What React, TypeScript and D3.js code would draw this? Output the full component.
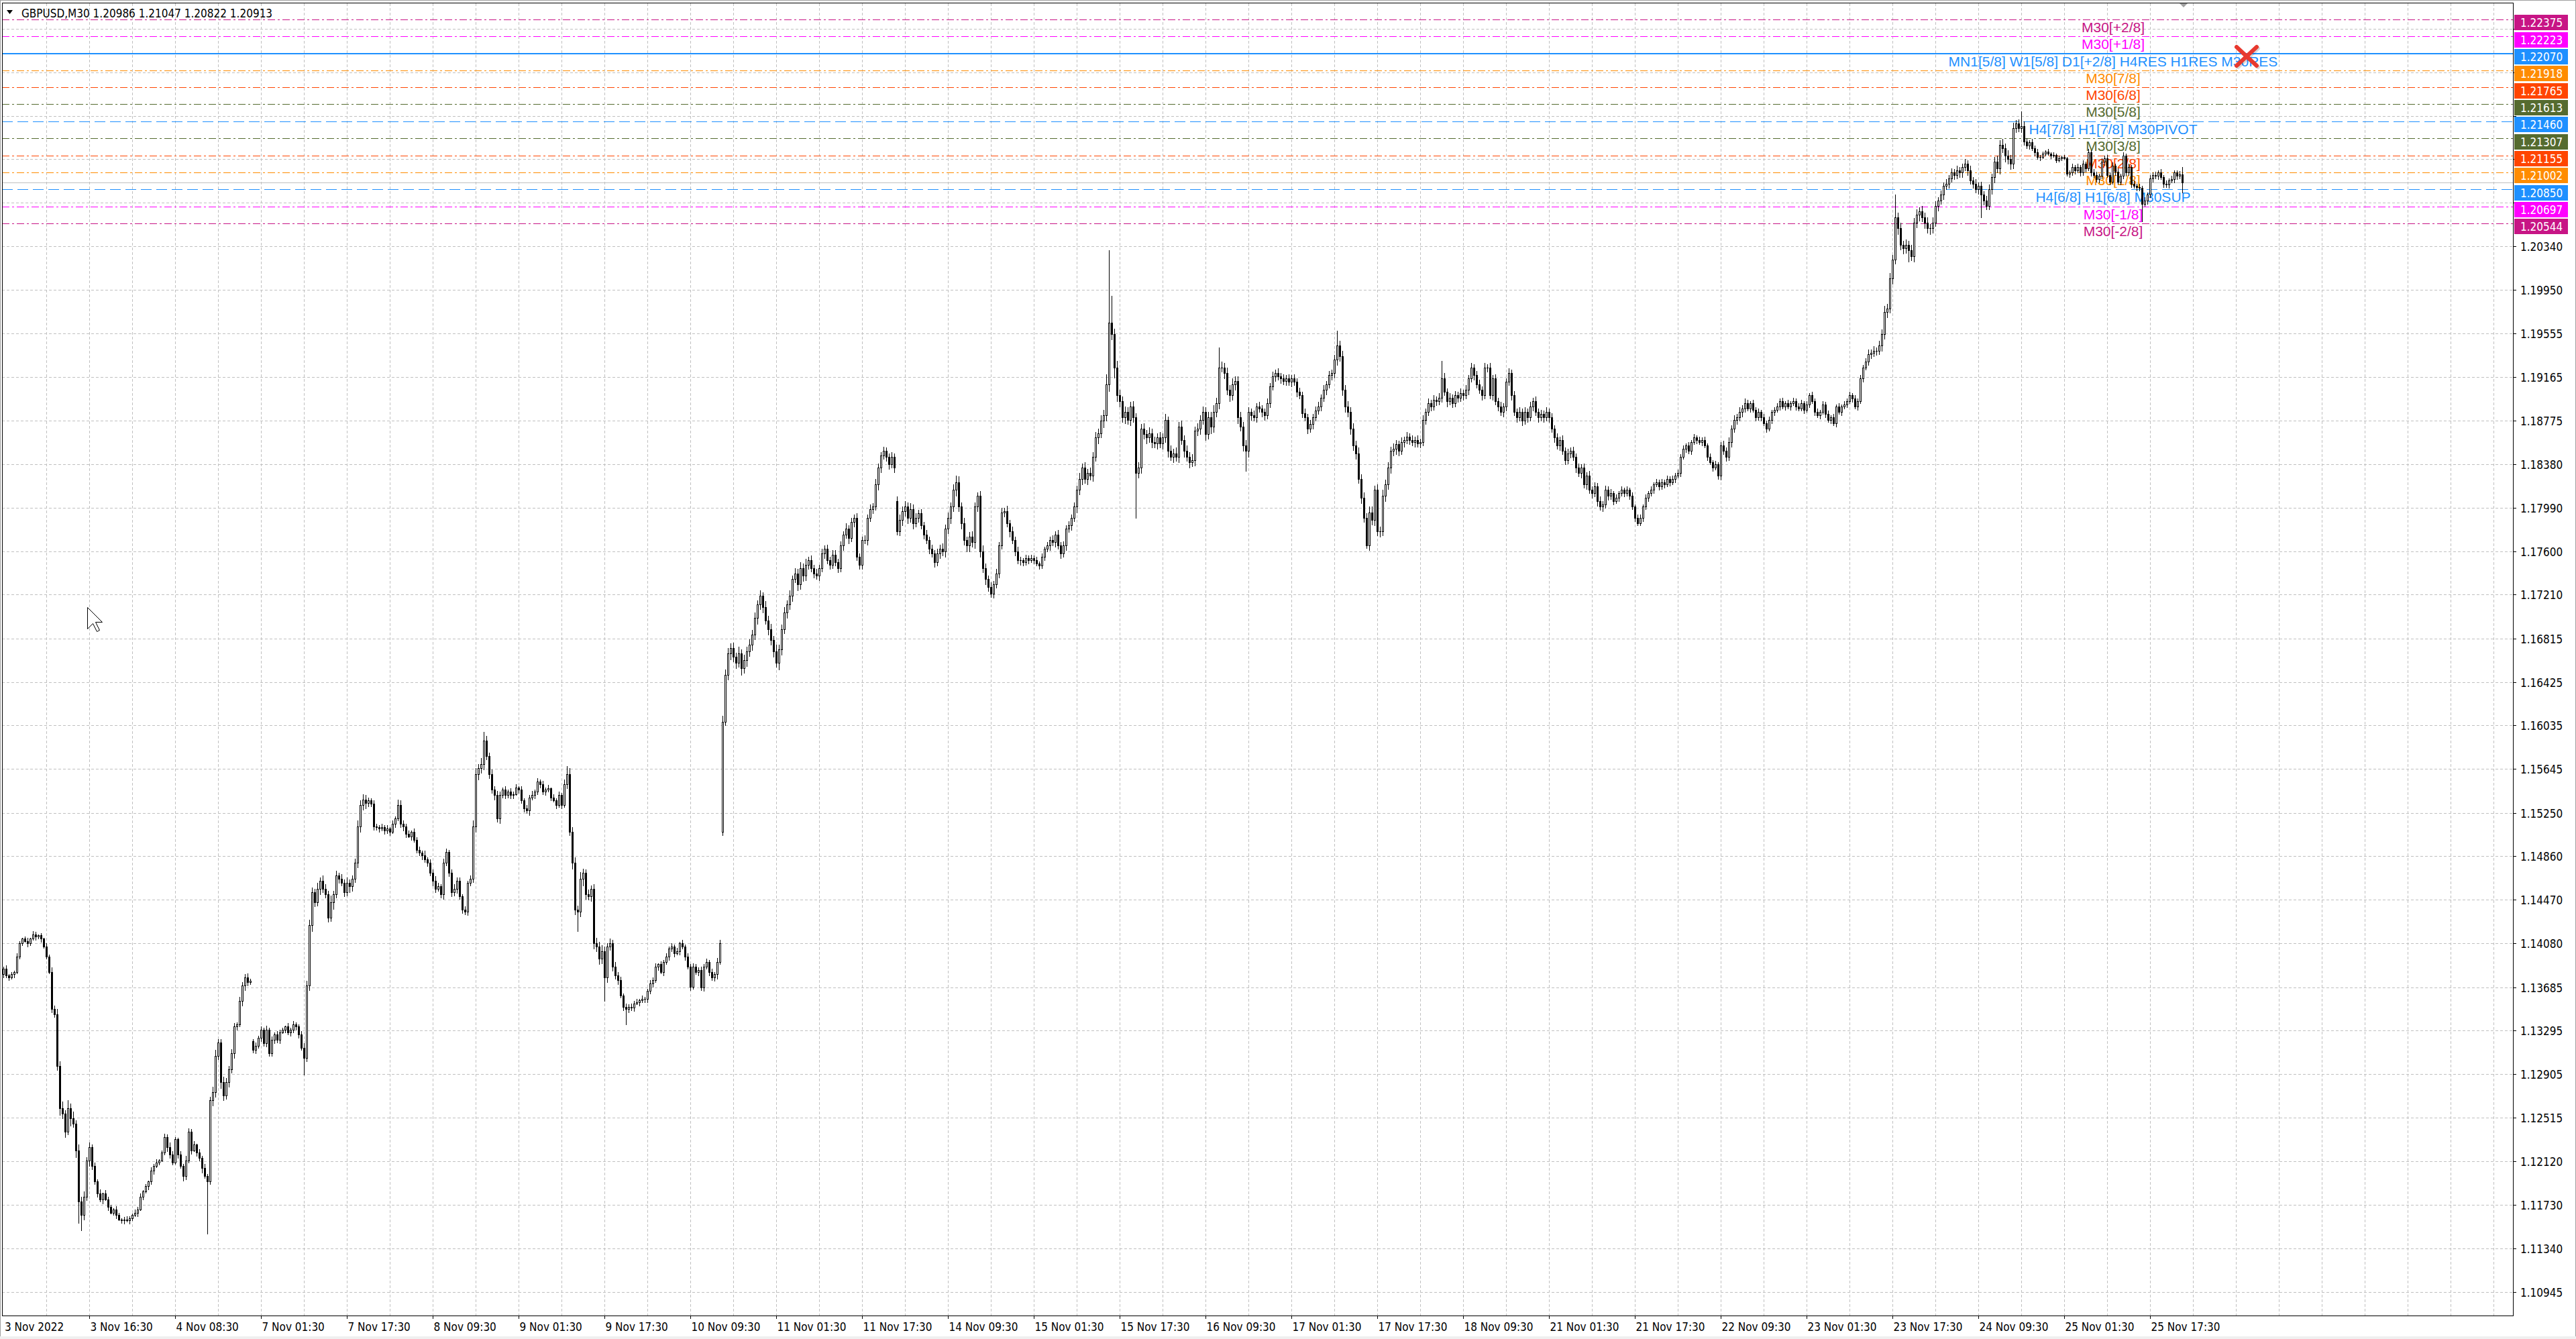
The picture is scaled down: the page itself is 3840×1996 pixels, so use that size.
import React from 'react';
import * as d3 from 'd3';

// ---------------- DATA ----------------
// close of every M30 bar, in 1e-4 price units (bar 0 = 3 Nov 2022 00:30 ... bar 812 = 25 Nov 23:30)
const closes: number[] = [
  11385, 11379, 11377, 11380, 11382, 11396, 11408, 11412, 11410, 11408,
  11412, 11416, 11414, 11415, 11412, 11405, 11396, 11382, 11349, 11344,
  11298, 11260, 11255, 11239, 11260, 11251, 11246, 11222, 11176, 11164,
  11180, 11213, 11225, 11208, 11194, 11183, 11178, 11183, 11178, 11171,
  11166, 11169, 11164, 11160, 11159, 11160, 11159, 11161, 11164, 11166,
  11169, 11180, 11185, 11190, 11194, 11204, 11208, 11211, 11213, 11220,
  11234, 11225, 11218, 11211, 11232, 11218, 11208, 11199, 11213, 11239,
  11222, 11227, 11220, 11215, 11206, 11199, 11194, 11267, 11274, 11307,
  11319, 11283, 11271, 11283, 11295, 11309, 11333, 11335, 11356, 11370,
  11377, 11373, 11374, 11312, 11316, 11323, 11330, 11318, 11330, 11309,
  11321, 11326, 11321, 11328, 11330, 11333, 11328, 11330, 11335, 11333,
  11326, 11314, 11305, 11370, 11424, 11454, 11445, 11457, 11464, 11457,
  11452, 11431, 11445, 11452, 11469, 11466, 11462, 11454, 11462, 11459,
  11466, 11480, 11513, 11532, 11537, 11534, 11536, 11533, 11513, 11512,
  11511, 11512, 11509, 11511, 11508, 11515, 11520, 11532, 11515, 11513,
  11506, 11504, 11508, 11501, 11492, 11489, 11487, 11483, 11480, 11471,
  11464, 11457, 11459, 11452, 11480, 11490, 11471, 11454, 11457, 11464,
  11450, 11438, 11436, 11462, 11466, 11513, 11560, 11565, 11569, 11590,
  11576, 11560, 11546, 11541, 11520, 11541, 11546, 11541, 11544, 11541,
  11542, 11548, 11546, 11536, 11529, 11527, 11539, 11541, 11544, 11553,
  11551, 11544, 11546, 11547, 11539, 11536, 11532, 11541, 11532, 11551,
  11560, 11508, 11480, 11438, 11436, 11466, 11471, 11452, 11450, 11457,
  11408, 11405, 11394, 11401, 11377, 11405, 11408, 11387, 11379, 11375,
  11361, 11351, 11349, 11351, 11350, 11354, 11355, 11357, 11358, 11358,
  11365, 11372, 11375, 11387, 11389, 11382, 11391, 11396, 11403, 11405,
  11399, 11401, 11408, 11405, 11396, 11387, 11369, 11387, 11382, 11384,
  11368, 11387, 11391, 11382, 11377, 11380, 11391, 11408, 11607, 11649,
  11668, 11673, 11665, 11660, 11668, 11655, 11662, 11670, 11676, 11685,
  11700, 11712, 11720, 11710, 11698, 11690, 11680, 11670, 11660, 11672,
  11690, 11705, 11712, 11720, 11735, 11740, 11730, 11745, 11738, 11748,
  11752, 11745, 11740, 11738, 11745, 11758, 11762, 11752, 11748, 11757,
  11750, 11745, 11765, 11775, 11780, 11772, 11786, 11790, 11755, 11748,
  11770, 11770, 11790, 11798, 11800, 11820, 11835, 11846, 11850, 11845,
  11838, 11845, 11835, 11778, 11788, 11796, 11800, 11790, 11798, 11785,
  11790, 11794, 11783, 11775, 11770, 11762, 11758, 11750, 11758, 11762,
  11760, 11780, 11790, 11800, 11815, 11822, 11800, 11785, 11770, 11765,
  11773, 11768, 11800, 11810, 11760, 11745, 11735, 11728, 11722, 11730,
  11740, 11765, 11795, 11796, 11785, 11778, 11770, 11760, 11752, 11752,
  11750, 11754, 11752, 11754, 11752, 11749, 11747, 11755, 11762, 11765,
  11770, 11768, 11775, 11765, 11758, 11765, 11780, 11783, 11790, 11800,
  11815, 11825, 11835, 11825, 11830, 11828, 11845, 11862, 11866, 11877,
  11882, 11910, 11965, 11955, 11925, 11900, 11895, 11880, 11885, 11878,
  11890, 11880, 11830, 11835, 11870, 11865, 11862, 11866, 11858, 11857,
  11862, 11857, 11862, 11878, 11850, 11845, 11848, 11845, 11872, 11860,
  11850, 11845, 11840, 11842, 11868, 11870, 11878, 11885, 11865, 11880,
  11872, 11885, 11893, 11925, 11925, 11920, 11905, 11900, 11910, 11913,
  11880, 11872, 11855, 11850, 11885, 11882, 11880, 11890, 11888, 11885,
  11882, 11893, 11908, 11917, 11920, 11917, 11915, 11913, 11915, 11912,
  11915, 11912, 11903, 11900, 11884, 11880, 11870, 11874, 11880, 11886,
  11890, 11898, 11905, 11910, 11918, 11920, 11932, 11945, 11935, 11905,
  11890, 11885, 11870, 11855, 11848, 11825, 11808, 11790, 11765, 11795,
  11788, 11815, 11778, 11778, 11810, 11820, 11835, 11850, 11852, 11856,
  11850, 11858, 11860, 11863, 11860, 11858, 11860, 11857, 11858, 11878,
  11885, 11893, 11890, 11896, 11895, 11898, 11915, 11903, 11895, 11898,
  11893, 11900, 11898, 11902, 11900, 11905, 11915, 11925, 11918, 11910,
  11905, 11900, 11925, 11925, 11900, 11915, 11895, 11890, 11885, 11890,
  11912, 11920, 11900, 11885, 11880, 11885, 11877, 11885, 11880, 11890,
  11895, 11885, 11880, 11883, 11880, 11885, 11880, 11870, 11862, 11855,
  11860, 11850, 11842, 11848, 11850, 11845, 11835, 11830, 11835, 11820,
  11828, 11815, 11812, 11818, 11805, 11800, 11802, 11815, 11810, 11812,
  11805, 11808, 11812, 11815, 11812, 11815, 11810, 11800, 11790, 11785,
  11790, 11800, 11808, 11812, 11815, 11820, 11822, 11818, 11822, 11820,
  11825, 11822, 11825, 11828, 11830, 11845, 11852, 11855, 11850, 11858,
  11862, 11860, 11858, 11860, 11855, 11845, 11840, 11835, 11838, 11828,
  11855, 11850, 11845, 11858, 11870, 11878, 11880, 11885, 11888, 11893,
  11888, 11893, 11887, 11880, 11885, 11880, 11875, 11870, 11878, 11885,
  11887, 11890, 11895, 11890, 11893, 11890, 11893, 11895, 11890, 11888,
  11893, 11887, 11892, 11900, 11895, 11885, 11882, 11885, 11892, 11883,
  11878, 11880, 11875, 11890, 11885, 11890, 11892, 11895, 11900, 11897,
  11890, 11895, 11915, 11925, 11930, 11937, 11938, 11940, 11940, 11945,
  11955, 11975, 11978, 12005, 12022, 12060, 12050, 12035, 12032, 12035,
  12030, 12025, 12055, 12062, 12065, 12060, 12055, 12050, 12050, 12055,
  12070, 12075, 12080, 12088, 12090, 12095, 12100, 12098, 12102, 12100,
  12105, 12108, 12102, 12093, 12090, 12085, 12088, 12080, 12075, 12070,
  12085, 12096, 12110, 12104, 12125, 12122, 12115, 12112, 12108, 12140,
  12144, 12140, 12142, 12128, 12124, 12127, 12122, 12118, 12114, 12114,
  12117, 12119, 12117, 12115, 12116, 12111, 12113, 12114, 12113, 12099,
  12100, 12105, 12102, 12105, 12100, 12108, 12104, 12118, 12100, 12098,
  12094, 12097, 12110, 12113, 12098, 12092, 12106, 12101, 12092, 12097,
  12115, 12100, 12105, 12090, 12088, 12087, 12086, 12072, 12075, 12080,
  12095, 12098, 12097, 12100, 12096, 12090, 12089, 12093, 12094, 12100,
  12097, 12098.6, 12091.3,
];
// upper / lower shadow lengths (1e-4 units), one digit per bar
const wickUp =
  '2312132123 1321213243 5463746354 5342324132 2132123213 2312132312 3243213243 2313242355 4354343243 3422323242 ' +
  '3232213232 2344543535 4363424353 3454543232 2323132343 2313232423 3432432343 3232355454 4343432323 2313232423 ' +
  '2323132324 3545464343 4545434343 3232323132 2323132323 2313232322 3232324355 5454645454 5453545464 4545354545 ' +
  '3434343434 4343534343 3434354343 3434545454 4343434344 5454545453 4545454343 4343534343 2323232323 3434343434 ' +
  '4545454545 5956565454 4545454545 4545354545 4545454545 5654545454 4545434343 3434343434 3434343434 4343434545 ' +
  '4545454545 5454545454 3434343434 3434343534 3434343434 4343434343 3434343434 3434343434 3434343434 3434343434 ' +
  '2323232323 3232323232 3232323232 3232323232 3434343434 3232323232 2323232323 3232323232 3232323232 3232343434 ' +
  '4545454545 4545454545 4343434343 3434343434 4345454545 3434323232 2121212121 2323232323 3232323232 3232323232 ' +
  '3232323232 232';
const wickDn =
  '3221312213 2132312132 4645373645 4353232413 1231231321 3121323121 2432132432 3132423254 3543434324 4322323232 ' +
  '2323122323 3243454353 3436342435 4345453232 3232313234 3132324232 4323423434 2323235545 3434342323 3132324232 ' +
  '3232313232 4354546434 5454343434 2323231323 3232313232 3132323223 2323234253 4545464545 4545354546 5454535454 ' +
  '4343434343 3434353434 4343435434 4343454545 3434343434 4545454545 5454545434 3434353434 3232323232 4343434343 ' +
  '5454545454 6565955454 5454545454 5454535454 5454545454 6545454545 5454543434 4343434343 4343434343 3434344545 ' +
  '5454545454 4545454545 4343434343 4343434353 4343434343 3434343434 4343434343 4343434343 4343434343 4343434343 ' +
  '3232323232 2323232323 2323232323 2323232323 4343434343 2323232323 3232323232 2323232323 2323232323 2323234343 ' +
  '5454545454 5454545454 3434343434 4343434343 3454545454 4343232323 1212121212 3232323232 2323232323 2323232323 ' +
  '2323232323 323';
const firstOpen = 11380;
// bars whose open is not the previous close (weekend / news gaps)
const gapOpens: [number, number][] = [[93, 11320], [268, 11508], [333, 11805], [812, 12098.6]];
const highFix: [number, number][] = [
  [80, 11322], [147, 11537], [179, 11598], [210, 11567], [271, 11677], [328, 11854], [355, 11828],
  [363, 11813], [412, 12030], [413, 11989], [453, 11943], [497, 11958], [536, 11931], [705, 12080],
  [750, 12147], [752, 12155], [812, 12104.7],
];
const lowFix: [number, number][] = [
  [28, 11157], [29, 11150], [76, 11147], [112, 11290], [214, 11419], [224, 11356], [232, 11335],
  [268, 11505], [422, 11790], [463, 11832], [508, 11763], [710, 12020], [737, 12060], [797, 12056],
  [812, 12082.2],
];

const timeLabels = [
  '3 Nov 2022', '3 Nov 16:30', '4 Nov 08:30', '7 Nov 01:30', '7 Nov 17:30', '8 Nov 09:30', '9 Nov 01:30',
  '9 Nov 17:30', '10 Nov 09:30', '11 Nov 01:30', '11 Nov 17:30', '14 Nov 09:30', '15 Nov 01:30',
  '15 Nov 17:30', '16 Nov 09:30', '17 Nov 01:30', '17 Nov 17:30', '18 Nov 09:30', '21 Nov 01:30',
  '21 Nov 17:30', '22 Nov 09:30', '23 Nov 01:30', '23 Nov 17:30', '24 Nov 09:30', '25 Nov 01:30',
  '25 Nov 17:30',
];
// grid rows hidden behind the level price boxes (no visible text)
const hiddenTicks = [1.2229, 1.219, 1.2151, 1.2112, 1.2073];
const priceTicks = [
  '1.20340', '1.19950', '1.19555', '1.19165', '1.18775', '1.18380', '1.17990', '1.17600', '1.17210',
  '1.16815', '1.16425', '1.16035', '1.15645', '1.15250', '1.14860', '1.14470', '1.14080', '1.13685',
  '1.13295', '1.12905', '1.12515', '1.12120', '1.11730', '1.11340', '1.10945',
];
// Murrey-math style levels
const levelPrices = [1.22375, 1.22223, 1.2207, 1.21918, 1.21765, 1.21613, 1.2146, 1.21307, 1.21155, 1.21002, 1.2085, 1.20697, 1.20544];
const levelKinds = ['ext2', 'ext1', 'major', 'o7', 'o6', 'o5', 'pivot', 'o3', 'o2', 'o1', 'sup', 'ext1', 'ext2'];
const levelTexts = [
  'M30[+2/8]', 'M30[+1/8]', 'MN1[5/8] W1[5/8] D1[+2/8] H4RES H1RES M30RES', 'M30[7/8]', 'M30[6/8]',
  'M30[5/8]', 'H4[7/8] H1[7/8] M30PIVOT', 'M30[3/8]', 'M30[2/8]', 'M30[1/8]', 'H4[6/8] H1[6/8] M30SUP',
  'M30[-1/8]', 'M30[-2/8]',
];
const titleText = 'GBPUSD,M30  1.20986 1.21047 1.20822 1.20913';
const lastClose = 1.20913;

// ---------------- STYLE / LAYOUT ----------------
const W = 3840, H = 1996;
const L = 3, R = 3746, T = 5, B = 1961;
const kindStyle: Record<string, { color: string; dash: string; width: number }> = {
  ext2: { color: '#C71585', dash: '11,4,3,4', width: 1 },
  ext1: { color: '#FF00FF', dash: '11,4,3,4', width: 1 },
  major: { color: '#1E90FF', dash: '', width: 2 },
  o7: { color: '#FF8C00', dash: '11,4,3,4', width: 1 },
  o6: { color: '#FF4500', dash: '11,4,3,4', width: 1 },
  o5: { color: '#556B2F', dash: '11,4,3,4', width: 1 },
  pivot: { color: '#1E90FF', dash: '16,7', width: 1 },
  o3: { color: '#556B2F', dash: '11,4,3,4', width: 1 },
  o2: { color: '#FF4500', dash: '11,4,3,4', width: 1 },
  o1: { color: '#FF8C00', dash: '11,4,3,4', width: 1 },
  sup: { color: '#1E90FF', dash: '16,7', width: 1 },
};
const axisFont = "'DejaVu Sans Condensed', 'DejaVu Sans', sans-serif";
const labelFont = "'Liberation Sans', Arial, sans-serif";

export default function App() {
  const x = d3.scaleLinear().domain([0, 812]).range([4.7, 3252.7]);
  const y = d3.scaleLinear().domain([1.2034 - (B - 366.8) / 16600, 1.2034 + (366.8 - T) / 16600]).range([B, T]);

  const up = wickUp.replace(/\s/g, '');
  const dn = wickDn.replace(/\s/g, '');
  const gaps = new Map(gapOpens);
  const hf = new Map(highFix);
  const lf = new Map(lowFix);
  const candles = closes.map((c, i) => {
    const o = gaps.has(i) ? (gaps.get(i) as number) : i === 0 ? firstOpen : closes[i - 1];
    const h = hf.has(i) ? (hf.get(i) as number) : Math.max(o, c) + Number(up[i] || 0);
    const l = lf.has(i) ? (lf.get(i) as number) : Math.min(o, c) - Number(dn[i] || 0);
    return { i, o: o / 1e4, h: h / 1e4, l: l / 1e4, c: c / 1e4 };
  });

  const vGrid = d3.range(16, 930, 16).map((b) => Math.round(x(b)) + 0.5).filter((v) => v < R);
  const hGrid = [...hiddenTicks, ...priceTicks.map((p) => +p)].map((p) => Math.round(y(p)) + 0.5);

  return (
    <div>
      <style>{'body{margin:0;background:#fff}'}</style>
      <svg width={W} height={H} viewBox={`0 0 ${W} ${H}`} style={{ display: 'block' }}>
        <rect x={0} y={0} width={W} height={H} fill="#fff" />
        {/* window frame */}
        <rect x={0.5} y={0.5} width={W - 1} height={H - 1} fill="none" stroke="#A0A0A0" />
        <rect x={0} y={H - 4} width={W} height={4} fill="#F0F0F0" />
        {/* grid */}
        <g stroke="#C0C0C0" strokeWidth={1} strokeDasharray="4,3" shapeRendering="crispEdges">
          {vGrid.map((v, k) => (
            <line key={'v' + k} x1={v} x2={v} y1={T} y2={B} />
          ))}
          {hGrid.map((v, k) => (
            <line key={'h' + k} x1={L} x2={R} y1={v} y2={v} />
          ))}
        </g>
        {/* last price line */}
        <line x1={L} x2={R} y1={Math.round(y(lastClose)) + 0.5} y2={Math.round(y(lastClose)) + 0.5} stroke="#C0C0C0" shapeRendering="crispEdges" />
        {/* level lines */}
        {levelPrices.map((p, k) => {
          const s = kindStyle[levelKinds[k]];
          const yy = Math.round(y(p)) + (s.width === 2 ? 0 : 0.5);
          return (
            <line key={'lv' + k} x1={L} x2={R} y1={yy} y2={yy} stroke={s.color} strokeWidth={s.width} strokeDasharray={s.dash || undefined} shapeRendering="crispEdges" />
          );
        })}
        {/* level labels */}
        {levelPrices.map((p, k) => {
          const s = kindStyle[levelKinds[k]];
          return (
            <text key={'lt' + k} x={3150} y={y(p) + 19} textAnchor="middle" fontFamily={labelFont} fontSize={21} fill={s.color}>
              {levelTexts[k]}
            </text>
          );
        })}
        {/* candles */}
        <g shapeRendering="crispEdges">
          {candles.map((d) => {
            const cx = Math.round(x(d.i));
            const yo = Math.round(y(d.o));
            const yc = Math.round(y(d.c));
            const yh = Math.round(y(d.h));
            const yl = Math.round(y(d.l));
            const top = Math.min(yo, yc);
            const bot = Math.max(yo, yc);
            const bull = d.c >= d.o;
            return (
              <g key={'c' + d.i}>
                <line x1={cx + 0.5} x2={cx + 0.5} y1={yh} y2={yl + 1} stroke="#000" />
                {bot - top < 1 ? (
                  <line x1={cx - 1} x2={cx + 2} y1={top + 0.5} y2={top + 0.5} stroke="#000" />
                ) : bull ? (
                  <rect x={cx - 0.5} y={top + 0.5} width={2} height={bot - top} fill="#fff" stroke="#000" />
                ) : (
                  <rect x={cx - 1} y={top} width={3} height={bot - top + 1} fill="#000" />
                )}
              </g>
            );
          })}
        </g>
        {/* red close marker */}
        <g strokeLinecap="round">
          <line x1={3334} y1={70} x2={3364} y2={98} stroke="#000" strokeOpacity={0.15} strokeWidth={6} transform="translate(2,2)" />
          <line x1={3364} y1={70} x2={3334} y2={98} stroke="#000" strokeOpacity={0.15} strokeWidth={6} transform="translate(2,2)" />
          <line x1={3334} y1={70} x2={3364} y2={98} stroke="#E8392F" strokeWidth={6} />
          <line x1={3364} y1={70} x2={3334} y2={98} stroke="#E8392F" strokeWidth={6} />
        </g>
        {/* chart shift marker */}
        <polygon points="3249,5 3261,5 3255,11" fill="#A0A0A0" />
        {/* frame / axes */}
        <line x1={L + 0.5} x2={L + 0.5} y1={T} y2={B} stroke="#000" shapeRendering="crispEdges" />
        <line x1={L} x2={R + 1} y1={T - 0.5} y2={T - 0.5} stroke="#000" shapeRendering="crispEdges" />
        <line x1={R + 0.5} x2={R + 0.5} y1={T - 1} y2={B + 1} stroke="#000" shapeRendering="crispEdges" />
        <line x1={L} x2={R + 1} y1={B + 0.5} y2={B + 0.5} stroke="#000" shapeRendering="crispEdges" />
        {/* price axis */}
        {hiddenTicks.map((p, k) => {
          const yy = Math.round(y(p)) + 0.5;
          return <line key={'ht' + k} x1={R} x2={R + 5} y1={yy} y2={yy} stroke="#000" shapeRendering="crispEdges" />;
        })}
        {priceTicks.map((p, k) => {
          const yy = Math.round(y(+p)) + 0.5;
          return (
            <g key={'pt' + k}>
              <line x1={R} x2={R + 5} y1={yy} y2={yy} stroke="#000" shapeRendering="crispEdges" />
              <text x={3757} y={yy} dominantBaseline="central" fontFamily={axisFont} fontSize={17} fill="#000">
                {p}
              </text>
            </g>
          );
        })}
        {levelPrices.map((p, k) => {
          const s = kindStyle[levelKinds[k]];
          const yy = y(p);
          return (
            <g key={'pb' + k}>
              <rect x={3748} y={Math.round(yy - 6.5)} width={80} height={23} fill={s.color} />
              <text x={3757} y={Math.round(yy - 6.5) + 12} dominantBaseline="central" fontFamily={axisFont} fontSize={17} fill="#fff">
                {p.toFixed(5)}
              </text>
            </g>
          );
        })}
        {/* time axis */}
        {timeLabels.map((t, k) => {
          const bx = Math.round(x(k * 32)) + 0.5;
          return (
            <g key={'tl' + k}>
              {k > 0 && <line x1={bx} x2={bx} y1={B} y2={B + 5} stroke="#000" shapeRendering="crispEdges" />}
              <text x={k === 0 ? 7 : bx + 1} y={1984} fontFamily={axisFont} fontSize={17} fill="#000">
                {t}
              </text>
            </g>
          );
        })}
        {/* title */}
        <polygon points="10,15 19,15 14.5,21" fill="#000" />
        <text x={32} y={26} fontFamily={axisFont} fontSize={17} fill="#000">
          {titleText}
        </text>
        {/* mouse cursor */}
        <path
          d="M0,0 L0,16 L4,12 L7,18 L9,17 L6,11 L11,11 Z"
          transform="translate(130.5,905.5) scale(2)"
          fill="#fff"
          stroke="#000"
          strokeWidth={0.5}
        />
      </svg>
    </div>
  );
}
